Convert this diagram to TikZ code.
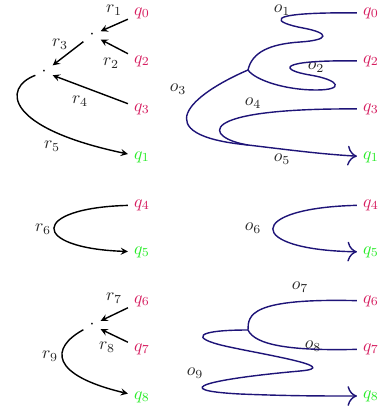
\documentclass[tikz,border=0pt]{standalone}
\usepackage{amsmath}
\usepackage{tikz}
\usetikzlibrary{arrows.meta}

\definecolor{inred}{RGB}{214,30,96}
\definecolor{outgreen}{RGB}{40,235,40}
\definecolor{navyline}{RGB}{30,20,120}

\begin{document}
\begin{tikzpicture}[x=0.02cm, y=-0.02cm,
        inq/.style={text=inred},
        outq/.style={text=outgreen},
        lbl/.style={text=black!85},
        rline/.style={thick, -stealth},
        oline/.style={thick, navyline},
        oarrow/.style={-{To[scale=1.6]}}]
                \useasboundingbox (0,0) rectangle (382,407);

                % Nodes (left)
                \node[inq] (q0) at (142,13) {$q_0$};
                \node[inq] (q2) at (142,61) {$q_2$};
                \node[inq] (q3) at (142,109) {$q_3$};
                \node[outq] (q1) at (142,157) {$q_1$};
                \node[inq] (q4) at (142,205) {$q_4$};
                \node[outq] (q5) at (142,252) {$q_5$};
                \node[inq] (q6) at (142,301) {$q_6$};
                \node[inq] (q7) at (142,349) {$q_7$};
                \node[outq] (q8) at (142,397) {$q_8$};
                \node (d1) at (92,35) {$\cdot$};
                \node (d2) at (44,72) {$\cdot$};
                \node (d3) at (92,325) {$\cdot$};

                \node[lbl] (r1) at (114,10) {$r_1$};
                \node[lbl] (r2) at (111,63) {$r_2$};
                \node[lbl] (r3) at (60,44) {$r_3$};
                \node[lbl] (r4) at (80,101) {$r_4$};
                \node[lbl] (r5) at (52,146) {$r_5$};
                \node[lbl] (r6) at (43,229) {$r_6$};
                \node[lbl] (r7) at (114,298) {$r_7$};
                \node[lbl] (r8) at (107,347) {$r_8$};
                \node[lbl] (r9) at (50,356) {$r_9$};

                % Nodes (right)
                \node[inq] (q0r) at (371,13) {$q_0$};
                \node[inq] (q2r) at (371,61) {$q_2$};
                \node[inq] (q3r) at (371,109) {$q_3$};
                \node[outq] (q1r) at (371,157) {$q_1$};
                \node[inq] (q4r) at (371,205) {$q_4$};
                \node[outq] (q5r) at (371,252) {$q_5$};
                \node[inq] (q6r) at (371,301) {$q_6$};
                \node[inq] (q7r) at (371,349) {$q_7$};
                \node[outq] (q8r) at (371,396) {$q_8$};
                \coordinate (j1) at (248,70);
                \coordinate (j2) at (248,145);
                \coordinate (j3) at (248,330);

                \node[lbl, inner sep=1pt] (o1) at (282,10) {$o_1$};
                \node[lbl] (o2) at (316,67) {$o_2$};
                \node[lbl] (o3) at (178,89) {$o_3$};
                \node[lbl] (o4) at (253,103) {$o_4$};
                \node[lbl] (o5) at (282,159) {$o_5$};
                \node[lbl] (o6) at (253,228) {$o_6$};
                \node[lbl] (o7) at (300,287) {$o_7$};
                \node[lbl] (o8) at (313,346) {$o_8$};
                \node[lbl] (o9) at (195,373) {$o_9$};

                % Edges (left)
                \draw[rline] (q0)--(d1);
                \draw[rline] (q2)--(d1);
                \draw[rline] (d1)--(d2);
                \draw[rline] (q3)--(d2);
                \draw[rline] (d2) .. controls (2,88) and (5,128) .. (q1);
                \draw[rline] (q4) .. controls (30,208) and (30,248) .. (q5);
                \draw[rline] (q6)--(d3);
                \draw[rline] (q7)--(d3);
                \draw[rline] (d3) .. controls (50,348) and (50,375) .. (q8);

                % Edges (right)
                \draw[oline] (q0r) .. controls (255,12) and (276,23) .. (303,28)
                    .. controls (330,33) and (330,40) .. (300,42)
                    .. controls (270,44) and (252,52) .. (j1);
                \draw[oline] (q2r) .. controls (275,60) and (280,70) .. (310,75)
                    .. controls (340,80) and (345,90) .. (316,90)
                    .. controls (285,90) and (255,80) .. (j1);
                \draw[oline] (j1) .. controls (190,95) and (145,135) .. (j2);
                \draw[oline] (q3r) .. controls (190,108) and (205,138) .. (j2);
                \draw[oline, oarrow] (j2) .. controls (290,150) and (320,154) .. (q1r);
                \draw[oline, oarrow] (q4r) .. controls (245,208) and (245,250) .. (q5r);
                \draw[oline] (q6r) .. controls (250,298) and (248,315) .. (j3);
                \draw[oline] (q7r) .. controls (290,351) and (255,345) .. (j3);
                \draw[oline, oarrow] (j3) .. controls (195,330) and (190,338) .. (225,346)
                    .. controls (260,354) and (345,367) .. (300,371)
                    .. controls (210,379) and (165,390) .. (240,394)
                    .. controls (290,396) and (320,396) .. (q8r);
            \end{tikzpicture}
\end{document}
